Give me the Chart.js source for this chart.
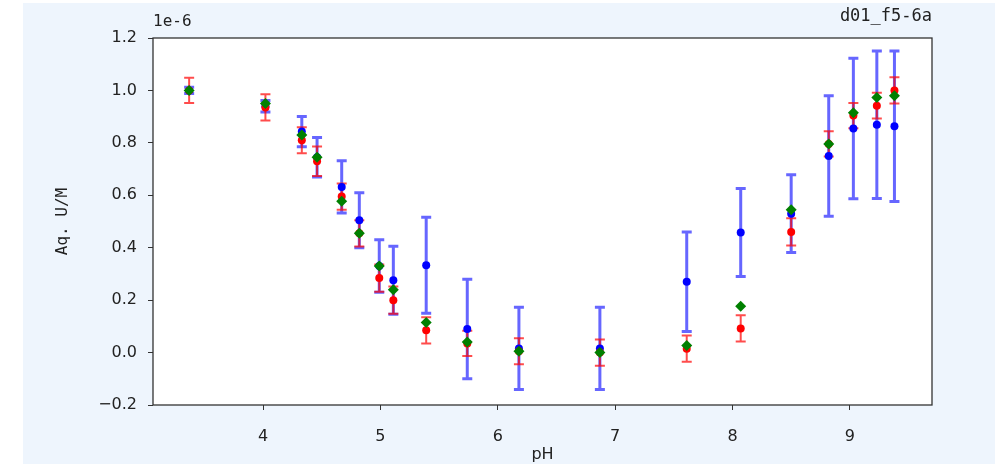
<!DOCTYPE html>
<html lang="en">
<head>
<meta charset="UTF-8">
<script src="https://cdn.jsdelivr.net/npm/chart.js@4/dist/chart.umd.min.js"></script>
<style>
  body { margin: 0; background: #ffffff; }
  #box { position: absolute; left: 23px; top: 3px; width: 972px; height: 461px; background: #eef5fd; }
</style>
</head>
<body>
<div id="box"><canvas id="chart" width="972" height="461"></canvas></div>
<script>
// pH of each sample
var ph = [3.37, 4.02, 4.33, 4.46, 4.67, 4.82, 4.99, 5.11, 5.39, 5.74, 6.18, 6.87, 7.61, 8.07, 8.50, 8.82, 9.03, 9.23, 9.38];
// aqueous U (x 1e-6 M)
var redVals = [1.0, 0.935, 0.81, 0.73, 0.595, 0.455, 0.284, 0.20, 0.085, 0.035, 0.005, 0.0, 0.015, 0.092, 0.46, 0.796, 0.904, 0.942, 1.0];
var redErr = [0.048, 0.05, 0.05, 0.056, 0.05, 0.05, 0.052, 0.052, 0.05, 0.048, 0.05, 0.05, 0.05, 0.05, 0.052, 0.048, 0.048, 0.049, 0.05];
var blueVals = [1.0, 0.94, 0.843, 0.745, 0.632, 0.505, 0.33, 0.276, 0.333, 0.09, 0.016, 0.016, 0.27, 0.458, 0.53, 0.75, 0.855, 0.869, 0.863];
var blueErr = [0.012, 0.022, 0.058, 0.075, 0.1, 0.105, 0.1, 0.13, 0.183, 0.19, 0.157, 0.157, 0.19, 0.168, 0.148, 0.23, 0.268, 0.281, 0.287];
var greenVals = [1.0, 0.95, 0.83, 0.745, 0.577, 0.455, 0.33, 0.24, 0.115, 0.04, 0.005, 0.0, 0.027, 0.177, 0.545, 0.796, 0.915, 0.973, 0.98];
var xTicks = [4, 5, 6, 7, 8, 9];
var yTicks = [-0.2, 0.0, 0.2, 0.4, 0.6, 0.8, 1.0, 1.2];

function pts(vals) {
    return ph.map(function (x, i) { return { x: x, y: vals[i] }; });
}

// error bars, drawn with the chart's own scales
var errorBars = {
    id: 'errorBars',
    beforeDatasetsDraw: function (chart) {
        var ctx = chart.ctx, xs = chart.scales.x, ys = chart.scales.y;
        function bars(vals, errs, color, lw) {
            ctx.save();
            ctx.strokeStyle = color;
            ctx.lineWidth = lw;
            for (var i = 0; i < ph.length; i++) {
                var px = xs.getPixelForValue(ph[i]);
                var top = ys.getPixelForValue(vals[i] + errs[i]);
                var bot = ys.getPixelForValue(vals[i] - errs[i]);
                ctx.beginPath();
                ctx.moveTo(px, top); ctx.lineTo(px, bot);
                ctx.moveTo(px - 5, top); ctx.lineTo(px + 5, top);
                ctx.moveTo(px - 5, bot); ctx.lineTo(px + 5, bot);
                ctx.stroke();
            }
            ctx.restore();
        }
        bars(blueVals, blueErr, 'rgba(0,0,255,0.6)', 3);
        bars(redVals, redErr, 'rgba(255,0,0,0.7)', 2);
    }
};

var frame = {
    id: 'frame',
    beforeDraw: function (chart) {
        var a = chart.chartArea, ctx = chart.ctx;
        ctx.save();
        ctx.fillStyle = '#ffffff';
        ctx.fillRect(a.left, a.top, a.right - a.left, a.bottom - a.top);
        ctx.restore();
    },
    afterDraw: function (chart) {
        var a = chart.chartArea, ctx = chart.ctx;
        ctx.save();
        ctx.strokeStyle = '#333333';
        ctx.lineWidth = 1.3;
        ctx.strokeRect(a.left, a.top, a.right - a.left, a.bottom - a.top);
        ctx.fillStyle = '#222222';
        ctx.font = '17px "DejaVu Sans Mono"';
        ctx.textAlign = 'right';
        ctx.textBaseline = 'alphabetic';
        ctx.fillText('d01_f5-6a', a.right, 18);
        ctx.font = '16px "DejaVu Sans Mono"';
        ctx.textAlign = 'left';
        ctx.fillText('1e-6', a.left, 23);
        ctx.restore();
    }
};

var ctx = document.getElementById('chart').getContext('2d');
new Chart(ctx, {
    type: 'scatter',
    data: {
        datasets: [
            { label: 'green', data: pts(greenVals), pointStyle: 'rectRot', pointRadius: 5.5, backgroundColor: '#008000', borderColor: '#008000', borderWidth: 0 },
            { label: 'red', data: pts(redVals), pointStyle: 'circle', pointRadius: 4, backgroundColor: '#ff0000', borderColor: '#ff0000', borderWidth: 0 },
            { label: 'blue', data: pts(blueVals), pointStyle: 'circle', pointRadius: 4, backgroundColor: '#0000ff', borderColor: '#0000ff', borderWidth: 0 }
        ]
    },
    options: {
        responsive: false,
        animation: false,
        layout: { padding: { left: 0, right: 63, top: 35, bottom: 0 } },
        plugins: { legend: { display: false }, tooltip: { enabled: false } },
        scales: {
            x: {
                type: 'linear',
                min: 3.062,
                max: 9.70,
                afterBuildTicks: function (s) { s.ticks = xTicks.map(function (v) { return { value: v }; }); },
                afterFit: function (s) { s.height = 59; },
                grid: { drawOnChartArea: false, drawTicks: true, tickLength: 5, color: '#333333' },
                border: { display: false },
                ticks: { color: '#222222', padding: 17, font: { family: 'DejaVu Sans', size: 16 }, callback: function (v) { return String(v); } },
                title: { display: true, text: 'pH', color: '#222222', font: { family: 'DejaVu Sans', size: 16 }, padding: { top: 2, bottom: 0 } }
            },
            y: {
                type: 'linear',
                min: -0.2,
                max: 1.2,
                afterBuildTicks: function (s) { s.ticks = yTicks.map(function (v) { return { value: v }; }); },
                afterFit: function (s) { s.width = 130; },
                grid: { drawOnChartArea: false, drawTicks: true, tickLength: 5, color: '#333333' },
                border: { display: false },
                ticks: { color: '#222222', padding: 11, font: { family: 'DejaVu Sans', size: 16 }, callback: function (v) { return v.toFixed(1).replace('-', '\u2212'); } },
                title: { display: true, text: 'Aq. U/M', color: '#222222', font: { family: 'DejaVu Sans Mono', size: 16 }, padding: { top: 30, bottom: 0 } }
            }
        }
    },
    plugins: [frame, errorBars]
});
</script>
</body>
</html>
